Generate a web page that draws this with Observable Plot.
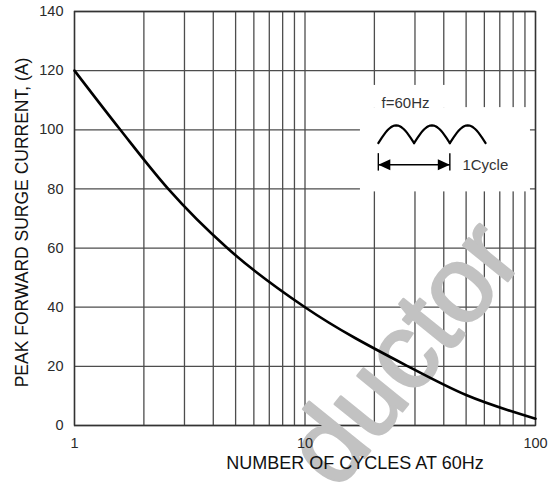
<!DOCTYPE html>
<html>
<head>
<meta charset="utf-8">
<script src="https://cdn.jsdelivr.net/npm/d3@7"></script>
<script src="https://cdn.jsdelivr.net/npm/@observablehq/plot@0.6"></script>
<style>
  html, body { margin: 0; padding: 0; background: white; }
</style>
</head>
<body>
<div id="chart"></div>
<script>
// ---- data ----
const cycles  = [1, 1.58, 2.55, 4.6, 10, 28, 50, 100];
const current = [120, 100, 80, 60, 40, 20, 10.3, 2.3];

const xTickValues = [1, 10, 100];
const xGridValues = [1, 2, 3, 4, 5, 6, 7, 8, 9, 10, 20, 30, 40, 50, 60, 70, 80, 90, 100];
const yTickValues = [0, 20, 40, 60, 80, 100, 120, 140];

const xTitle = "NUMBER OF CYCLES AT 60Hz";
const yTitle = "PEAK FORWARD SURGE CURRENT, (A)";
const freqLabel = "f=60Hz";
const cycleLabel = "1Cycle";
const watermarkText = "ductor";

// inset annotation anchors (in data units)
const insetBoxes = [
  {x1: 17.4, x2: 95.1, y1: 79, y2: 107.5},
  {x1: 17.4, x2: 44.1, y1: 107.5, y2: 115}
];
const archBounds = [20.8, 29.73, 42.5, 60.75];
const archBase = 95.5, archHeight = 6;
const arrowEnds = [20.8, 42.5];
const arrowY = 88.2, barLow = 86.2, barHigh = 92.1;

// ---- build tables ----
const curveData = cycles.map((c, i) => ({cycles: c, current: current[i]}));

const archPts = [];
const steps = [0, 0.05, 0.1, 0.15, 0.2, 0.25, 0.3, 0.35, 0.4, 0.45, 0.5, 0.55, 0.6, 0.65, 0.7, 0.75, 0.8, 0.85, 0.9, 0.95, 1];
for (let k = 0; k < archBounds.length - 1; k++) {
  const a = archBounds[k], b = archBounds[k + 1];
  for (const t of steps) {
    archPts.push({arch: k, x: a * Math.pow(b / a, t), y: archBase + archHeight * Math.sin(Math.PI * t)});
  }
}

const rightHead = {draw(ctx) { ctx.moveTo(0, 0); ctx.lineTo(-12, -5.5); ctx.lineTo(-12, 5.5); ctx.closePath(); }};
const leftHead  = {draw(ctx) { ctx.moveTo(0, 0); ctx.lineTo(12, -5.5); ctx.lineTo(12, 5.5); ctx.closePath(); }};

const font = "'Liberation Sans', Arial, Helvetica, sans-serif";
const gridColor = "#4d4d4d";

const chart = Plot.plot({
  width: 549,
  height: 487,
  marginLeft: 74,
  marginRight: 14,
  marginTop: 11,
  marginBottom: 62,
  style: {fontFamily: font, fontSize: "14.5px", background: "white", color: "#2a2a2a", overflow: "visible"},
  x: {type: "log", domain: [1, 100], axis: null, label: null},
  y: {type: "linear", domain: [0, 140], ticks: yTickValues, tickSize: 0, tickPadding: 11, label: null},
  marks: [
    Plot.ruleX(xGridValues, {stroke: gridColor, strokeWidth: 1.3}),
    Plot.ruleY(yTickValues, {stroke: gridColor, strokeWidth: 1.3}),
    Plot.frame({stroke: "#333", strokeWidth: 1.4}),
    Plot.rect(insetBoxes, {x1: "x1", x2: "x2", y1: "y1", y2: "y2", fill: "white"}),
    Plot.text([watermarkText], {x: () => 27.0, y: () => 24.3, text: d => d, rotate: -51, fontSize: 108, fill: "#c2c2c2", stroke: "#c2c2c2", strokeWidth: 2.5, fontFamily: font}),
    Plot.line(curveData, {x: "cycles", y: "current", curve: "monotone-x", stroke: "black", strokeWidth: 2.6}),
    // x tick labels (drawn above the watermark)
    Plot.text(xTickValues, {x: d => d, frameAnchor: "bottom", text: d => String(d), lineAnchor: "top", dy: 12, fontSize: 14.5, fill: "#2a2a2a"}),
    // inset: rectified waveform
    Plot.line(archPts, {x: "x", y: "y", z: "arch", stroke: "black", strokeWidth: 2.2}),
    // inset: 1 cycle dimension arrow
    Plot.link([0], {x1: () => arrowEnds[0], x2: () => arrowEnds[1], y1: () => arrowY, y2: () => arrowY, stroke: "black", strokeWidth: 1.6}),
    Plot.link(arrowEnds, {x1: d => d, x2: d => d, y1: () => barLow, y2: () => barHigh, stroke: "black", strokeWidth: 1.4}),
    Plot.dot([arrowEnds[1]], {x: d => d, y: () => arrowY, symbol: rightHead, fill: "black", stroke: "none"}),
    Plot.dot([arrowEnds[0]], {x: d => d, y: () => arrowY, symbol: leftHead, fill: "black", stroke: "none"}),
    Plot.text([freqLabel], {x: () => 27.3, y: () => 108.9, text: d => d, fontSize: 15, fill: "#333"}),
    Plot.text([cycleLabel], {x: () => 48.2, y: () => 87.9, text: d => d, textAnchor: "start", fontSize: 15, fill: "#333"}),
    // axis titles
    Plot.text([xTitle], {frameAnchor: "bottom", text: d => d, textAnchor: "middle", lineAnchor: "middle", dx: 50, dy: 38, fontSize: 18, fill: "#111"}),
    Plot.text([yTitle], {frameAnchor: "left", text: d => d, textAnchor: "middle", lineAnchor: "middle", rotate: -90, dx: -52.5, dy: 4, fontSize: 17.5, fill: "#111"})
  ]
});

document.getElementById("chart").appendChild(chart);
</script>
</body>
</html>
